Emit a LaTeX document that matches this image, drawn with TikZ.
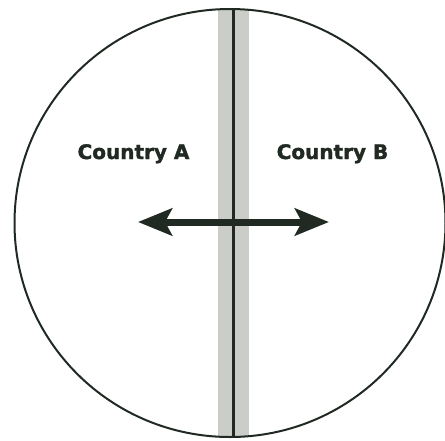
\documentclass[tikz,border=0pt]{standalone}
\usepackage{fontspec}
\newfontfamily\labelfont[FakeBold=1.6]{DejaVu Sans}
\usetikzlibrary{arrows.meta}
\definecolor{ink}{RGB}{32,42,34}
\definecolor{band}{RGB}{203,206,200}
\tikzset{
  outline/.style={draw=ink, line width=2pt},
  border/.style={draw=ink, line width=3pt},
  country/.style={font=\labelfont\bfseries\fontsize{20}{24}\selectfont, text=ink, inner sep=0pt, anchor=base},
  flow/.style={draw=ink, line width=7pt, {Stealth[length=34pt, width=27pt, inset=7pt]}-{Stealth[length=34pt, width=27pt, inset=7pt]}}
}
\begin{document}
\begin{tikzpicture}[x=1pt, y=-1pt]
\useasboundingbox (0,0) rectangle (445,440);
\begin{scope}
  \clip (230,223) ellipse [x radius=215.5, y radius=214];
  \fill[band] (218,0) rectangle (249,440);
\end{scope}
\coordinate (top) at (233.5,9);
\coordinate (bottom) at (233.5,437);
\draw[border] (top) -- (bottom);
\draw[outline] (230,223) ellipse [x radius=215.5, y radius=214];
\node[country] (A) at (133.5,159) {Country A};
\node[country] (B) at (332.5,159) {Country B};
\coordinate (left) at (138,222);
\coordinate (right) at (329,222);
\draw[flow] (left) -- (right);
\end{tikzpicture}
\end{document}
